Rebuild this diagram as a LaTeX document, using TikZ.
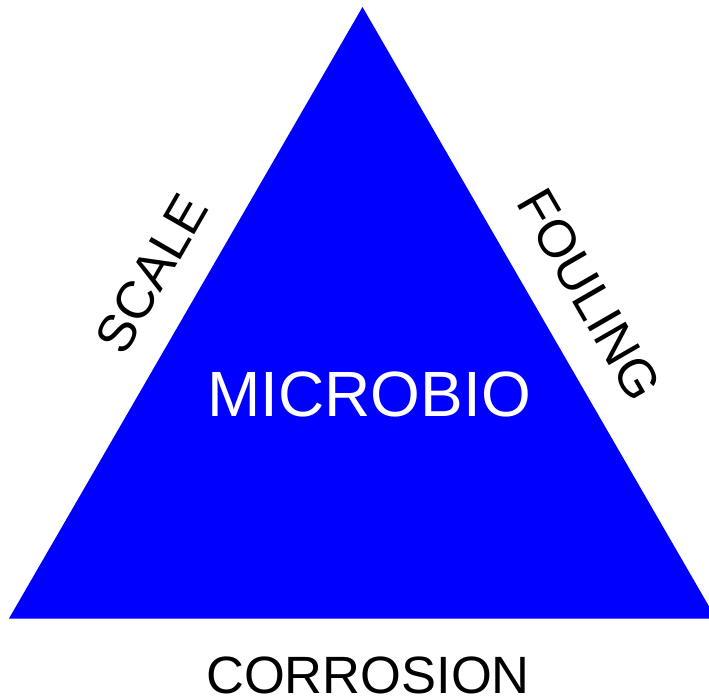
\documentclass[tikz,border=0pt]{standalone}
\usepackage{fontspec}
\setmainfont{Liberation Sans}

\begin{document}
\begin{tikzpicture}[
  x=1pt,y=-1pt,
  every node/.style={inner sep=0pt},
  face/.style={fill=blue,draw=none},
  side/.style={font=\fontsize{52.5}{52.5}\selectfont,text=black},
  inside/.style={font=\fontsize{64}{64}\selectfont,text=white}
]

\useasboundingbox (0,0) rectangle (709,700);
\clip (0,0) rectangle (709,700);

% ------------------------------------------------------------------
% Triangle
% ------------------------------------------------------------------
\coordinate (T) at (362.5,7);
\coordinate (L) at (9,618.5);
\coordinate (R) at (716,618.5);

\fill[face] (T)--(L)--(R)--cycle;

% ------------------------------------------------------------------
% Labels
% ------------------------------------------------------------------
\node[inside] (microbio) at (369,394) {MICROBIO};
\node[side,rotate=60] (scale) at (151.5,273.5) {SCALE};
\node[side,rotate=-60] (fouling) at (589.5,294.5) {FOULING};
\node[side] (corrosion) at (368,675) {CORROSION};

\end{tikzpicture}
\end{document}
